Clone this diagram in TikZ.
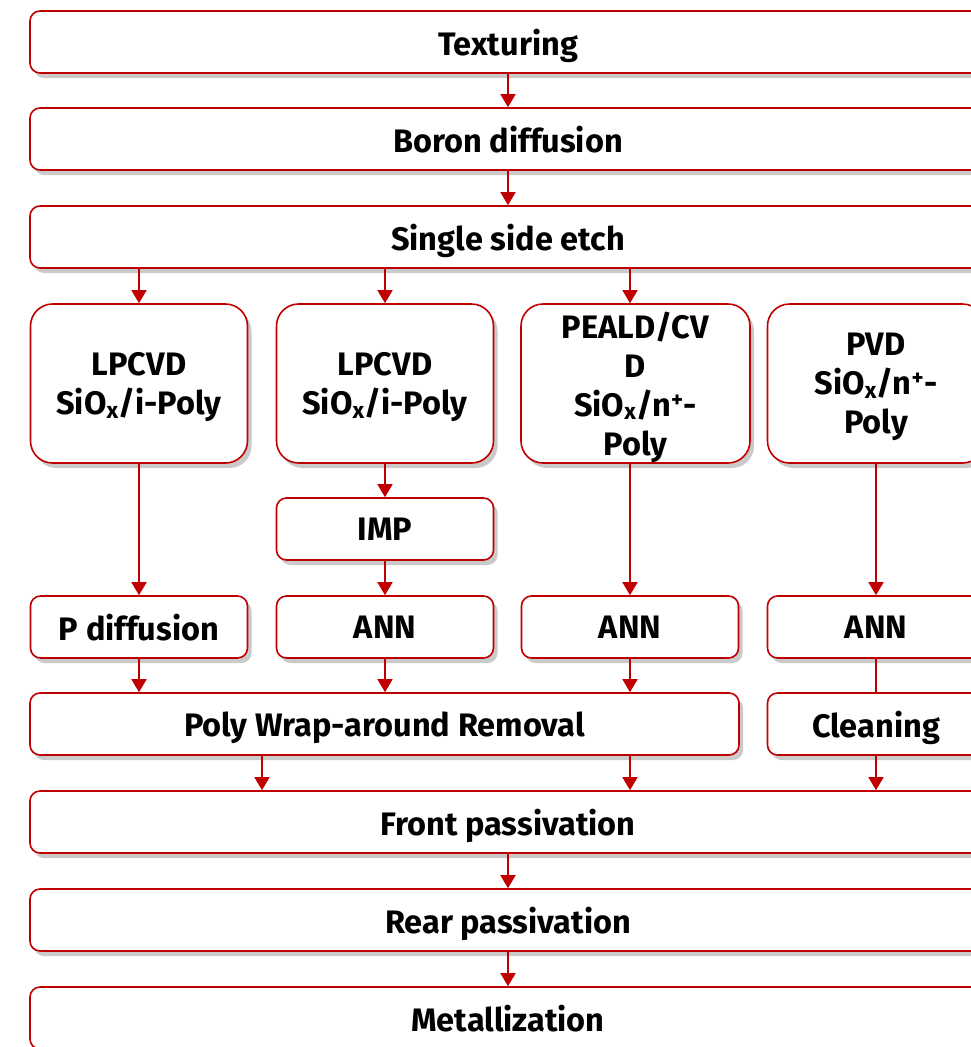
\documentclass[tikz,border=0pt]{standalone}
\usepackage{fontspec}
\setmainfont{Fira Sans}[Ligatures=NoCommon]
\usetikzlibrary{arrows.meta,positioning,shadows}
\definecolor{dred}{RGB}{192,0,0}
\tikzstyle{box}=[draw=dred,line width=1.6pt,fill=white,rounded corners=10pt,minimum height=62pt,inner sep=0pt,text depth=0pt,align=center,font=\fontsize{32.5}{39}\selectfont\bfseries,drop shadow={shadow xshift=4pt,shadow yshift=-5pt,fill=black!35,opacity=0.6}]
\tikzstyle{wide}=[box,minimum width=956pt]
\tikzstyle{small}=[box,minimum width=217pt]
\tikzstyle{tall}=[box,minimum width=217pt,minimum height=159pt,rounded corners=22pt]
\tikzstyle{flow}=[draw=dred,line width=1.6pt,-{Triangle[length=13pt,width=15pt]}]
\tikzstyle{link}=[draw=dred,line width=1.6pt]

\begin{document}
\begin{tikzpicture}[x=1pt,y=-1pt]
\useasboundingbox (0,0) rectangle (971,1047);
% main line
\node [wide] (tex) at (508,42) {Texturing};
\node [wide] (bor) at (508,139) {Boron diffusion};
\node [wide] (sse) at (508,237) {Single side etch};
% four routes
\node [tall] (a1) at (139,383.5) {LPCVD\\SiO\textsubscript{x}/i-Poly};
\node [tall] (a2) at (385,383.5) {LPCVD\\SiO\textsubscript{x}/i-Poly};
\node [tall,minimum width=229pt] (a3) at (635.5,383.5) {PEALD/CV\\D\\SiO\textsubscript{x}/n\textsuperscript{+}-\\Poly};
\node [tall] (a4) at (876,383.5) {PVD\\SiO\textsubscript{x}/n\textsuperscript{+}-\\Poly};
\node [small] (imp) at (385,529) {IMP};
\node [small] (pdif) at (139,627) {P diffusion};
\node [small] (ann2) at (385,627) {ANN};
\node [small] (ann3) at (630,627) {ANN};
\node [small] (ann4) at (876,627) {ANN};
\node [box,minimum width=709pt] (pwr) at (384.5,724) {Poly Wrap-around Removal};
\node [small] (cln) at (876,724) {Cleaning};
% main line again
\node [wide] (fp) at (508,822) {Front passivation};
\node [wide] (rp) at (508,920) {Rear passivation};
\node [wide] (met) at (508,1018) {Metallization};
\coordinate (k) at (262,0);

\draw [flow] (tex) -- (bor);
\draw [flow] (bor) -- (sse);
\draw [flow] (sse.south -| a1) -- (a1);
\draw [flow] (sse.south -| a2) -- (a2);
\draw [flow] (sse.south -| ann3) -- (a3.north -| ann3);
\draw [flow] (a1) -- (pdif);
\draw [flow] (a2) -- (imp);
\draw [flow] (imp) -- (ann2);
\draw [flow] (a3.south -| ann3) -- (ann3);
\draw [flow] (a4) -- (ann4);
\draw [flow] (pdif) -- (pwr.north -| pdif);
\draw [flow] (ann2) -- (pwr.north -| ann2);
\draw [flow] (ann3) -- (pwr.north -| ann3);
\draw [link] (ann4) -- (cln);
\draw [flow] (pwr.south -| k) -- (fp.north -| k);
\draw [flow] (pwr.south -| ann3) -- (fp.north -| ann3);
\draw [flow] (cln) -- (fp.north -| cln);
\draw [flow] (fp) -- (rp);
\draw [flow] (rp) -- (met);
\end{tikzpicture}
\end{document}
